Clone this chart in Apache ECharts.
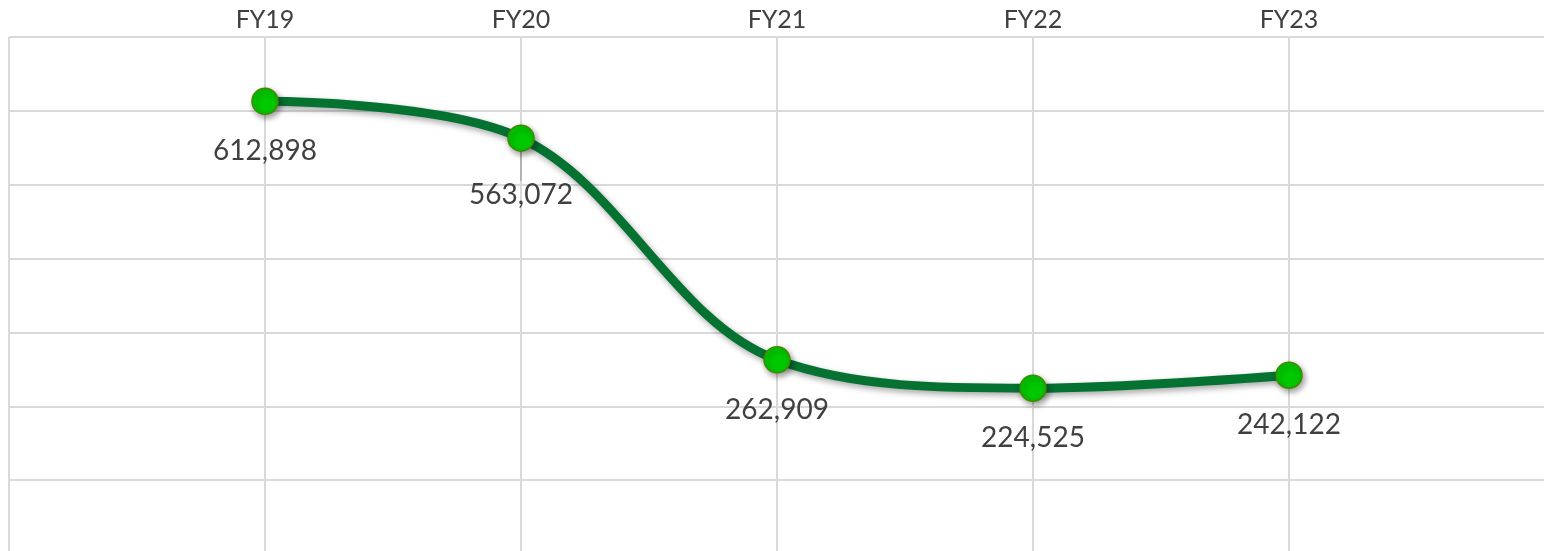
<!DOCTYPE html>
<html>
<head>
<meta charset="utf-8">
<title>FY trend</title>
<script src="https://cdn.jsdelivr.net/npm/echarts@6/dist/echarts.min.js"></script>
<style>
  html, body { margin: 0; padding: 0; background: #fff; }
  #chart { width: 1544px; height: 551px; }
</style>
</head>
<body>
<div id="chart"></div>
<script>
// data
var categories = ["FY19", "FY20", "FY21", "FY22", "FY23"];
var values = [612898, 563072, 262909, 224525, 242122];
var yTicks = [0, 100000, 200000, 300000, 400000, 500000, 600000, 700000];

var myChart = echarts.init(document.getElementById("chart"));

// blank slot on each side so the plot starts/ends one step away
var axisData = [""].concat(categories, [""]);
var seriesData = [null].concat(
  values.map(function (v, i) {
    // only the FY20 label keeps the leader line
    if (i === 1) {
      return v;
    }
    return { value: v, labelLine: { show: false } };
  }),
  [null]
);

var option = {
  animation: false,
  grid: {
    left: 9,
    right: -1,
    top: 37,
    bottom: -3,
    containLabel: false,
    outerBoundsMode: "none"
  },
  xAxis: {
    type: "category",
    position: "top",
    boundaryGap: false,
    data: axisData,
    axisLine: { show: false },
    axisTick: { show: false },
    axisLabel: {
      fontFamily: "Lato",
      fontSize: 25,
      color: "#404040",
      margin: 5
    },
    splitLine: {
      show: true,
      lineStyle: { color: "#d9d9d9", width: 2 }
    }
  },
  yAxis: {
    type: "value",
    min: yTicks[0],
    max: yTicks[yTicks.length - 1],
    interval: yTicks[1] - yTicks[0],
    axisLine: { show: false },
    axisTick: { show: false },
    axisLabel: { show: false },
    splitLine: {
      lineStyle: { color: "#d9d9d9", width: 2 }
    }
  },
  series: [
    {
      type: "line",
      data: seriesData,
      smooth: 0.35,
      symbol: "circle",
      symbolSize: 26,
      lineStyle: {
        color: "#067232",
        width: 9,
        shadowColor: "rgba(0, 0, 0, 0.35)",
        shadowBlur: 6,
        shadowOffsetX: 2,
        shadowOffsetY: 3
      },
      itemStyle: {
        color: "#00c800",
        borderColor: "#3f8a00",
        borderWidth: 1.5,
        shadowColor: "rgba(0, 0, 0, 0.4)",
        shadowBlur: 6,
        shadowOffsetX: 2,
        shadowOffsetY: 3
      },
      label: {
        show: true,
        position: "bottom",
        distance: 22,
        fontFamily: "Lato",
        fontSize: 28,
        color: "#404040",
        formatter: function (p) {
          return p.value == null ? "" : p.value.toLocaleString("en-US");
        }
      },
      labelLine: {
        show: true,
        lineStyle: { color: "#a6a6a6", width: 1.5 }
      },
      // FY20 label sits a bit lower in the original
      labelLayout: function (params) {
        if (params.dataIndex === 2) {
          return { dy: 7 };
        }
      }
    }
  ]
};

myChart.setOption(option);
</script>
</body>
</html>
